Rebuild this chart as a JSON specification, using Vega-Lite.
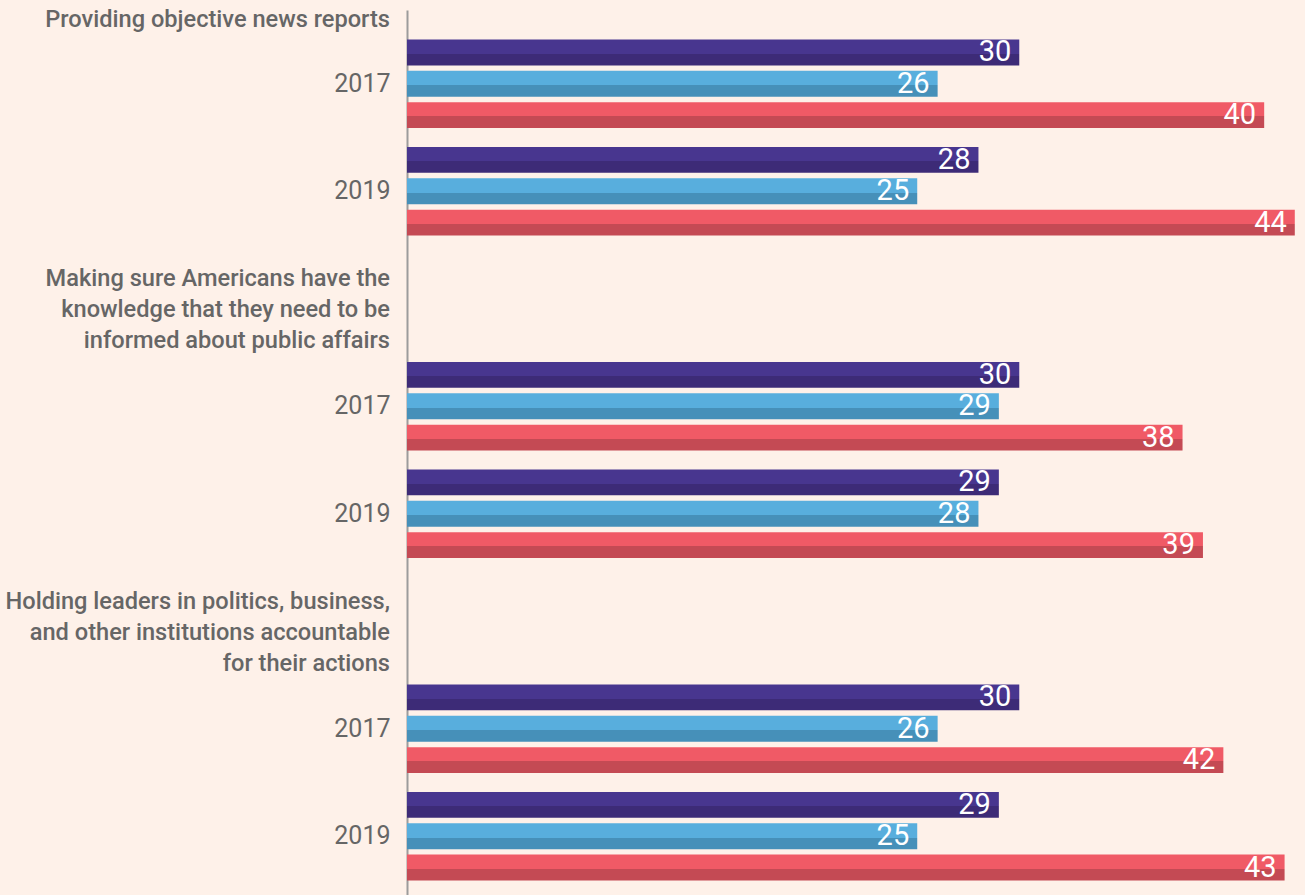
{
  "$schema": "https://vega.github.io/schema/vega-lite/v6.json",
  "width": 898,
  "height": 900,
  "autosize": "none",
  "padding": {"left": 407, "top": 10, "right": 0, "bottom": 0},
  "background": "#fef1e9",
  "config": {"view": {"stroke": null}, "font": "Roboto"},
  "datasets": {
    "bars": [
      {"slot": "g1|2017", "series": "a", "pct": 30, "bar": 30},
      {"slot": "g1|2017", "series": "b", "pct": 26, "bar": 26},
      {"slot": "g1|2017", "series": "c", "pct": 40, "bar": 42},
      {"slot": "g1|2019", "series": "a", "pct": 28, "bar": 28},
      {"slot": "g1|2019", "series": "b", "pct": 25, "bar": 25},
      {"slot": "g1|2019", "series": "c", "pct": 44, "bar": 43.5},
      {"slot": "g2|2017", "series": "a", "pct": 30, "bar": 30},
      {"slot": "g2|2017", "series": "b", "pct": 29, "bar": 29},
      {"slot": "g2|2017", "series": "c", "pct": 38, "bar": 38},
      {"slot": "g2|2019", "series": "a", "pct": 29, "bar": 29},
      {"slot": "g2|2019", "series": "b", "pct": 28, "bar": 28},
      {"slot": "g2|2019", "series": "c", "pct": 39, "bar": 39},
      {"slot": "g3|2017", "series": "a", "pct": 30, "bar": 30},
      {"slot": "g3|2017", "series": "b", "pct": 26, "bar": 26},
      {"slot": "g3|2017", "series": "c", "pct": 42, "bar": 40},
      {"slot": "g3|2019", "series": "a", "pct": 29, "bar": 29},
      {"slot": "g3|2019", "series": "b", "pct": 25, "bar": 25},
      {"slot": "g3|2019", "series": "c", "pct": 43, "bar": 43}
    ],
    "titles": [
      {"slot": "g1|2017", "lines": 1, "title": ["Providing objective news reports"]},
      {"slot": "g2|2017", "lines": 3, "title": ["Making sure Americans have the", "knowledge that they need to be", "informed about public affairs"]},
      {"slot": "g3|2017", "lines": 3, "title": ["Holding leaders in politics, business,", "and other institutions accountable", "for their actions"]}
    ]
  },
  "layer": [
    {
      "data": {"name": "bars"},
      "transform": [{"filter": "datum.series === 'a'"}],
      "mark": {
        "type": "bar",
        "fill": {"gradient": "linear", "x1": 0, "y1": 0, "x2": 0, "y2": 1,
          "stops": [{"offset": 0, "color": "#48368f"}, {"offset": 0.55, "color": "#48368f"}, {"offset": 0.55, "color": "#3d2b77"}, {"offset": 1, "color": "#3d2b77"}]}
      },
      "encoding": {
        "y": {
          "field": "slot",
          "type": "nominal",
          "scale": {
            "domain": ["g1|2017", "g1|2019", "sp1", "g2|2017", "g2|2019", "sp2", "g3|2017", "g3|2019"],
            "paddingInner": 0,
            "paddingOuter": 0.1865
          },
          "axis": {
            "title": null,
            "values": ["g1|2017", "g1|2019", "g2|2017", "g2|2019", "g3|2017", "g3|2019"],
            "labelExpr": "split(datum.value, '|')[1]",
            "ticks": false,
            "tickSize": 0,
            "labelPadding": 17,
            "labelFont": "Roboto",
            "labelFontSize": 25,
            "labelFontWeight": 400,
            "labelColor": "#666666",
            "domainColor": "#9c9c9c",
            "domainWidth": 2,
            "grid": false
          }
        },
        "x": {"field": "bar", "type": "quantitative", "scale": {"domain": [0, 44], "nice": false, "zero": true}, "axis": null},
        "yOffset": {"field": "series", "scale": {"domain": ["a", "b", "c"], "paddingInner": 0.175, "paddingOuter": 0.303}}
      }
    },
    {
      "data": {"name": "bars"},
      "transform": [{"filter": "datum.series === 'b'"}],
      "mark": {
        "type": "bar",
        "fill": {"gradient": "linear", "x1": 0, "y1": 0, "x2": 0, "y2": 1,
          "stops": [{"offset": 0, "color": "#58aedd"}, {"offset": 0.55, "color": "#58aedd"}, {"offset": 0.55, "color": "#4690b9"}, {"offset": 1, "color": "#4690b9"}]}
      },
      "encoding": {
        "y": {"field": "slot", "type": "nominal"},
        "x": {"field": "bar", "type": "quantitative"},
        "yOffset": {"field": "series"}
      }
    },
    {
      "data": {"name": "bars"},
      "transform": [{"filter": "datum.series === 'c'"}],
      "mark": {
        "type": "bar",
        "fill": {"gradient": "linear", "x1": 0, "y1": 0, "x2": 0, "y2": 1,
          "stops": [{"offset": 0, "color": "#f05a66"}, {"offset": 0.55, "color": "#f05a66"}, {"offset": 0.55, "color": "#c44a54"}, {"offset": 1, "color": "#c44a54"}]}
      },
      "encoding": {
        "y": {"field": "slot", "type": "nominal"},
        "x": {"field": "bar", "type": "quantitative"},
        "yOffset": {"field": "series"}
      }
    },
    {
      "data": {"name": "bars"},
      "mark": {"type": "text", "align": "right", "baseline": "middle", "dx": -8, "color": "#ffffff", "fontSize": 29, "font": "Roboto", "fontWeight": 400},
      "encoding": {
        "y": {"field": "slot", "type": "nominal"},
        "x": {"field": "bar", "type": "quantitative"},
        "yOffset": {"field": "series"},
        "text": {"field": "pct", "type": "quantitative"}
      }
    },
    {
      "data": {"name": "titles"},
      "transform": [{"filter": "datum.lines === 1"}],
      "mark": {"type": "text", "align": "right", "baseline": "alphabetic", "dx": -17, "dy": -57, "color": "#666666", "fontSize": 23.6, "fontWeight": 500, "font": "Roboto", "lineHeight": 31},
      "encoding": {
        "y": {"field": "slot", "type": "nominal"},
        "x": {"datum": 0, "type": "quantitative"},
        "text": {"field": "title", "type": "nominal"}
      }
    },
    {
      "data": {"name": "titles"},
      "transform": [{"filter": "datum.lines === 3"}],
      "mark": {"type": "text", "align": "right", "baseline": "alphabetic", "dx": -17, "dy": -120, "color": "#666666", "fontSize": 23.6, "fontWeight": 500, "font": "Roboto", "lineHeight": 31},
      "encoding": {
        "y": {"field": "slot", "type": "nominal"},
        "x": {"datum": 0, "type": "quantitative"},
        "text": {"field": "title", "type": "nominal"}
      }
    }
  ]
}
